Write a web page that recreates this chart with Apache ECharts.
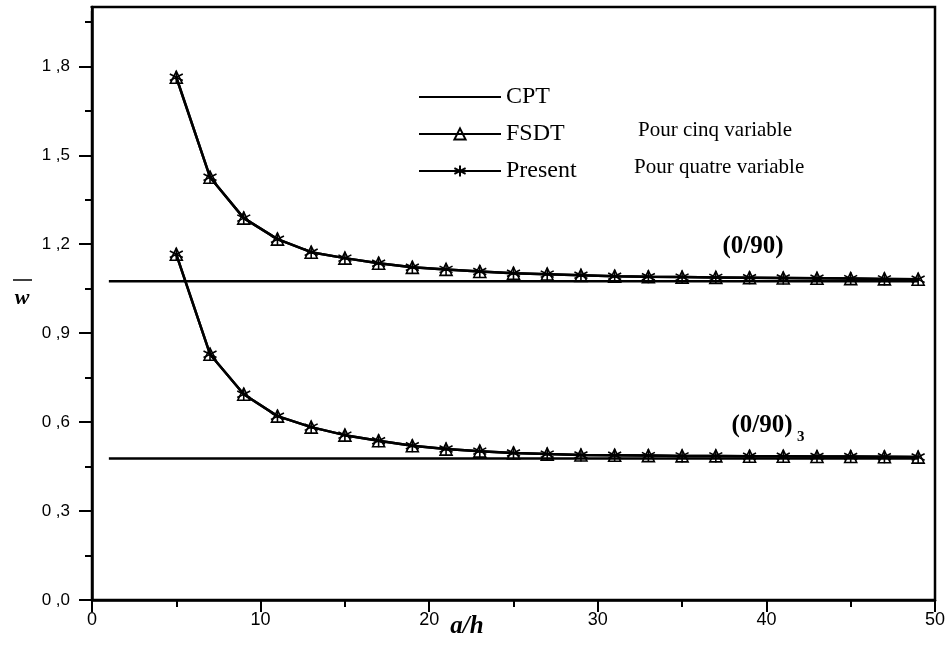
<!DOCTYPE html>
<html><head><meta charset="utf-8">
<script src="https://cdn.jsdelivr.net/npm/echarts@6/dist/echarts.min.js"></script>
<style>html,body{margin:0;padding:0;background:#fff}#c{width:951px;height:645px}</style>
</head><body><div id="c"></div>
<script>
const xVals = [5,7,9,11,13,15,17,19,21,23,25,27,29,31,33,35,37,39,41,43,45,47,49];
const upperFSDT = [1.763,1.426,1.288,1.217,1.173,1.153,1.136,1.122,1.115,1.108,1.102,1.099,1.095,1.092,1.090,1.089,1.088,1.087,1.086,1.085,1.084,1.083,1.082];
const upperPresent = [1.763,1.426,1.288,1.217,1.173,1.153,1.136,1.122,1.115,1.108,1.102,1.099,1.095,1.092,1.090,1.089,1.088,1.087,1.086,1.085,1.084,1.083,1.082];
const lowerFSDT = [1.166,0.829,0.694,0.620,0.583,0.556,0.537,0.520,0.509,0.502,0.496,0.492,0.489,0.488,0.487,0.486,0.486,0.485,0.485,0.484,0.484,0.483,0.482];
const lowerPresent = [1.166,0.829,0.694,0.620,0.583,0.556,0.537,0.520,0.509,0.502,0.496,0.492,0.489,0.488,0.487,0.486,0.486,0.485,0.485,0.484,0.484,0.483,0.482];
const cptX = [1,49];
const cptUpper = 1.075;
const cptLower = 0.477;
const legendNames = ['CPT','FSDT','Present'];
const yTicks = {min:0, max:2.0, interval:0.3};
const xTicks = {min:0, max:50, interval:10};

const pair = (xs, ys) => xs.map((x,i)=>[x, ys[i]]);
const starPath = 'path://M5,0L5,10M0.67,2.5L9.33,7.5M0.67,7.5L9.33,2.5';
const lineStyle = {color:'#000', width:2.5};
function cpt(v){ return {name:'CPT', type:'line', data:cptX.map(x=>[x,v]), symbol:'circle', symbolSize:0, showSymbol:false,
  lineStyle:lineStyle, itemStyle:{color:'rgba(0,0,0,0)', borderWidth:0}, z:2}; }
function fsdt(ys){ return {name:'FSDT', type:'line', data:pair(xVals,ys), symbol:'triangle', symbolSize:12,
  lineStyle:lineStyle, itemStyle:{color:'rgba(0,0,0,0)', borderColor:'#000', borderWidth:1.6}, z:3}; }
function present(ys){ return {name:'Present', type:'line', data:pair(xVals,ys), symbol:starPath, symbolSize:13,
  lineStyle:lineStyle, itemStyle:{color:'rgba(0,0,0,0)', borderColor:'#000', borderWidth:1.6}, z:4}; }

const chart = echarts.init(document.getElementById('c'));
const serif = 'Liberation Serif, Times New Roman, serif';
chart.setOption({
  animation:false,
  backgroundColor:'#fff',
  grid:{left:92, right:16, top:7, bottom:45, show:true, borderColor:'#000', borderWidth:2.5, backgroundColor:'transparent'},
  legend:{data:legendNames, orient:'vertical', left:413, top:80, itemWidth:82, itemHeight:14, itemGap:13,
    textStyle:{fontFamily:serif, fontSize:24, color:'#000', lineHeight:24}, selectedMode:false},
  xAxis:{type:'value', min:xTicks.min, max:xTicks.max, interval:xTicks.interval,
    axisLine:{lineStyle:{color:'#000', width:2.5}},
    axisTick:{show:true, inside:false, length:12, lineStyle:{color:'#000', width:2}},
    minorTick:{show:true, splitNumber:2, length:7, lineStyle:{color:'#000', width:2}},
    splitLine:{show:false},
    axisLabel:{color:'#000', fontSize:18, fontFamily:'Liberation Sans Narrow, Arial Narrow, Liberation Sans, Arial', margin:11}},
  yAxis:{type:'value', min:yTicks.min, max:yTicks.max, interval:yTicks.interval,
    axisLine:{lineStyle:{color:'#000', width:2.5}},
    axisTick:{show:true, inside:false, length:13, lineStyle:{color:'#000', width:2}},
    minorTick:{show:true, splitNumber:2, length:7, lineStyle:{color:'#000', width:2}},
    splitLine:{show:false},
    axisLabel:{color:'#000', fontSize:17, fontFamily:'Liberation Sans, Arial', margin:22, showMaxLabel:false,
      formatter:v=> (Math.abs(v-2.0)<1e-6) ? '' : v.toFixed(1).replace('.', ' ,')}},
  series:[cpt(cptUpper), cpt(cptLower), fsdt(upperFSDT), fsdt(lowerFSDT), present(upperPresent), present(lowerPresent)],
  graphic:[
    {type:'rect', shape:{x:70, y:2, width:20.5, height:9}, style:{fill:'#fff'}, z:100},
    {type:'text', x:638, y:130, style:{text:'Pour cinq variable', font:'21px '+serif, fill:'#000', verticalAlign:'middle'}},
    {type:'text', x:634, y:167, style:{text:'Pour quatre variable', font:'21px '+serif, fill:'#000', verticalAlign:'middle'}},
    {type:'text', x:753, y:247, style:{text:'(0/90)', font:'bold 25px '+serif, fill:'#000', align:'center', verticalAlign:'middle'}},
    {type:'text', x:762, y:426, style:{text:'(0/90)', font:'bold 25px '+serif, fill:'#000', align:'center', verticalAlign:'middle'}},
    {type:'text', x:797, y:437, style:{text:'3', font:'bold 15px '+serif, fill:'#000', align:'left', verticalAlign:'middle'}},
    {type:'text', x:467, y:627, style:{text:'a/h', font:'italic bold 25px '+serif, fill:'#000', align:'center', verticalAlign:'middle'}},
    {type:'text', x:22, y:298, style:{text:'w', font:'italic bold 22px '+serif, fill:'#000', align:'center', verticalAlign:'middle'}},
    {type:'line', shape:{x1:13, y1:280, x2:32, y2:280}, style:{stroke:'#000', lineWidth:1.5}}
  ]
});
</script></body></html>
